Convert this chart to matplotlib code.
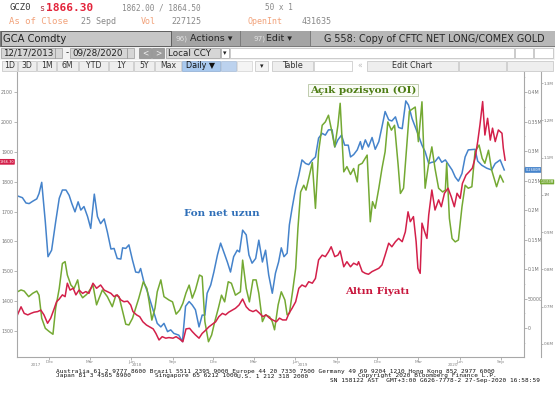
import matplotlib
matplotlib.use("Agg")
import matplotlib.pyplot as plt
import matplotlib.dates as mdates
import matplotlib.transforms as mtrans
from matplotlib.patches import Rectangle
from matplotlib.ticker import FixedLocator, FuncFormatter, MultipleLocator
import pandas as pd

# ---- data ----
# fund net long (thousand contracts), weekly
blue_dates = [
    "2017-09-21", "2017-10-02", "2017-10-10", "2017-10-17", "2017-10-25", "2017-11-03", "2017-11-08", "2017-11-14", "2017-11-22", "2017-11-28",
    "2017-12-06", "2017-12-15", "2017-12-23", "2017-12-30", "2018-01-07", "2018-01-14", "2018-01-20", "2018-01-27", "2018-02-03", "2018-02-09",
    "2018-02-16", "2018-02-24", "2018-03-03", "2018-03-11", "2018-03-18", "2018-03-25", "2018-04-02", "2018-04-09", "2018-04-17", "2018-04-24",
    "2018-05-01", "2018-05-09", "2018-05-13", "2018-05-20", "2018-05-27", "2018-06-04", "2018-06-11", "2018-06-18", "2018-06-22", "2018-06-30",
    "2018-07-07", "2018-07-14", "2018-07-22", "2018-07-29", "2018-08-06", "2018-08-13", "2018-08-21", "2018-08-28", "2018-09-04", "2018-09-15",
    "2018-09-23", "2018-09-30", "2018-10-08", "2018-10-15", "2018-10-22", "2018-10-30", "2018-11-06", "2018-11-12", "2018-11-17", "2018-11-25",
    "2018-12-02", "2018-12-10", "2018-12-17", "2018-12-24", "2019-01-01", "2019-01-08", "2019-01-15", "2019-01-23", "2019-01-28", "2019-02-04",
    "2019-02-12", "2019-02-18", "2019-02-25", "2019-03-05", "2019-03-12", "2019-03-20", "2019-03-27", "2019-04-03", "2019-04-11", "2019-04-18",
    "2019-04-25", "2019-05-01", "2019-05-07", "2019-05-14", "2019-05-19", "2019-05-25", "2019-06-02", "2019-06-09", "2019-06-16", "2019-06-24",
    "2019-07-01", "2019-07-09", "2019-07-16", "2019-07-23", "2019-07-31", "2019-08-07", "2019-08-14", "2019-08-22", "2019-08-28", "2019-09-04",
    "2019-09-12", "2019-09-19", "2019-09-27", "2019-10-02", "2019-10-09", "2019-10-17", "2019-10-24", "2019-10-28", "2019-11-04", "2019-11-11",
    "2019-11-19", "2019-11-26", "2019-12-04", "2019-12-11", "2019-12-18", "2019-12-26", "2020-01-02", "2020-01-10", "2020-01-17", "2020-01-25",
    "2020-02-02", "2020-02-08", "2020-02-16", "2020-02-23", "2020-03-01", "2020-03-09", "2020-03-16", "2020-03-24", "2020-03-31", "2020-04-07",
    "2020-04-15", "2020-04-22", "2020-04-30", "2020-05-07", "2020-05-15", "2020-05-22", "2020-05-29", "2020-06-06", "2020-06-13", "2020-06-20",
    "2020-07-05", "2020-07-11", "2020-07-20", "2020-07-31", "2020-08-11", "2020-08-19", "2020-08-30", "2020-09-08",
]
blue_vals = [
    224, 221, 212, 211, 215, 219, 228, 247, 180, 121,
    132, 180, 220, 234, 234, 225, 211, 197, 214, 200,
    206, 189, 169, 227, 189, 177, 185, 163, 134, 135,
    118, 117, 136, 135, 141, 115, 95, 94, 101, 76,
    62, 45, 25, 8, 2, 8, -6, -3, -9, -12,
    -23, 37, 45, 39, 31, 2, 22, 22, 59, 73,
    95, 124, 144, 129, 112, 95, 121, 132, 129, 166,
    158, 124, 110, 118, 149, 112, 132, 90, 59, 93,
    112, 136, 121, 127, 175, 203, 237, 259, 285, 279,
    277, 285, 290, 322, 330, 327, 336, 336, 307, 319,
    327, 310, 310, 290, 294, 302, 316, 303, 319, 307,
    323, 303, 316, 341, 367, 353, 351, 358, 340, 338,
    385, 378, 355, 341, 327, 310, 299, 279, 281, 282,
    290, 281, 285, 277, 268, 256, 249, 262, 290, 302,
    303, 283, 276, 271, 268, 279, 285, 268,
]

# open interest (thousand contracts), weekly
green_dates = [
    "2017-09-21", "2017-09-29", "2017-10-06", "2017-10-16", "2017-10-25", "2017-11-03", "2017-11-08", "2017-11-14", "2017-11-22", "2017-12-01",
    "2017-12-09", "2017-12-15", "2017-12-23", "2017-12-30", "2018-01-05", "2018-01-10", "2018-01-18", "2018-01-25", "2018-02-02", "2018-02-07",
    "2018-02-13", "2018-02-22", "2018-03-01", "2018-03-08", "2018-03-16", "2018-03-22", "2018-03-29", "2018-04-09", "2018-04-20", "2018-04-28",
    "2018-05-05", "2018-05-13", "2018-05-20", "2018-05-27", "2018-06-04", "2018-06-11", "2018-06-18", "2018-06-28", "2018-07-06", "2018-07-11",
    "2018-07-17", "2018-07-24", "2018-07-29", "2018-08-06", "2018-08-13", "2018-08-24", "2018-09-01", "2018-09-09", "2018-09-17", "2018-09-24",
    "2018-10-01", "2018-10-08", "2018-10-15", "2018-10-22", "2018-10-31", "2018-11-06", "2018-11-12", "2018-11-20", "2018-11-27", "2018-12-04",
    "2018-12-12", "2018-12-19", "2018-12-26", "2019-01-03", "2019-01-10", "2019-01-19", "2019-01-25", "2019-01-30", "2019-02-04", "2019-02-12",
    "2019-02-19", "2019-02-27", "2019-03-06", "2019-03-12", "2019-03-20", "2019-03-27", "2019-04-05", "2019-04-11", "2019-04-16", "2019-04-24",
    "2019-05-01", "2019-05-09", "2019-05-14", "2019-05-19", "2019-05-26", "2019-06-02", "2019-06-07", "2019-06-13", "2019-06-20", "2019-06-25",
    "2019-07-01", "2019-07-09", "2019-07-16", "2019-07-23", "2019-07-31", "2019-08-07", "2019-08-14", "2019-08-20", "2019-08-28", "2019-09-04",
    "2019-09-09", "2019-09-17", "2019-09-24", "2019-10-02", "2019-10-09", "2019-10-17", "2019-10-20", "2019-10-28", "2019-11-08", "2019-11-15",
    "2019-11-20", "2019-11-26", "2019-12-04", "2019-12-11", "2019-12-18", "2019-12-24", "2020-01-01", "2020-01-08", "2020-01-16", "2020-01-21",
    "2020-01-28", "2020-02-10", "2020-02-23", "2020-03-01", "2020-03-09", "2020-03-16", "2020-03-24", "2020-03-31", "2020-04-07", "2020-04-15",
    "2020-04-24", "2020-04-30", "2020-05-03", "2020-05-09", "2020-05-15", "2020-05-22", "2020-05-29", "2020-06-06", "2020-06-13", "2020-06-20",
    "2020-06-28", "2020-07-05", "2020-07-14", "2020-07-21", "2020-07-27", "2020-08-04", "2020-08-11", "2020-08-22", "2020-08-30", "2020-09-06",
]
green_vals = [
    740, 745, 742, 727, 736, 742, 731, 669, 642, 633,
    626, 696, 749, 816, 821, 785, 758, 749, 772, 736,
    724, 733, 745, 758, 705, 724, 745, 727, 700, 731,
    727, 687, 653, 651, 669, 696, 723, 767, 749, 713,
    664, 696, 740, 772, 727, 718, 713, 680, 691, 709,
    737, 758, 723, 745, 785, 781, 660, 606, 624, 660,
    696, 731, 713, 767, 763, 731, 736, 740, 825, 749,
    713, 772, 772, 736, 660, 678, 673, 660, 638, 705,
    740, 718, 678, 682, 740, 803, 910, 1008, 1026, 1013,
    1044, 1087, 964, 1116, 1187, 1196, 1214, 1179, 1129, 1187,
    1246, 1062, 1076, 1055, 1071, 1035, 1080, 1085, 1107, 928,
    982, 964, 1018, 1071, 1116, 1196, 1174, 1187, 1080, 1004,
    1018, 1225, 1236, 1143, 1250, 1018, 1085, 1129, 1071, 1018,
    1008, 1013, 1085, 937, 883, 874, 879, 968, 1026, 1018,
    1022, 1116, 1134, 1098, 1085, 1120, 1067, 1022, 1053, 1035,
]

# gold price (USD/oz)
gold_dates = [
    "2017-09-21", "2017-09-29", "2017-10-06", "2017-10-14", "2017-10-21", "2017-10-28", "2017-11-05", "2017-11-12", "2017-11-19", "2017-11-27",
    "2017-12-04", "2017-12-12", "2017-12-17", "2017-12-23", "2017-12-30", "2018-01-05", "2018-01-10", "2018-01-16", "2018-01-23", "2018-01-29",
    "2018-02-05", "2018-02-13", "2018-02-20", "2018-02-27", "2018-03-08", "2018-03-16", "2018-03-25", "2018-04-02", "2018-04-09", "2018-04-17",
    "2018-04-24", "2018-05-01", "2018-05-09", "2018-05-16", "2018-05-24", "2018-05-31", "2018-06-05", "2018-06-13", "2018-06-20", "2018-06-27",
    "2018-07-05", "2018-07-12", "2018-07-20", "2018-07-26", "2018-08-02", "2018-08-09", "2018-08-17", "2018-08-24", "2018-09-02", "2018-09-09",
    "2018-09-17", "2018-09-24", "2018-10-01", "2018-10-09", "2018-10-15", "2018-10-22", "2018-10-30", "2018-11-06", "2018-11-14", "2018-11-21",
    "2018-11-28", "2018-12-06", "2018-12-13", "2018-12-21", "2018-12-28", "2019-01-04", "2019-01-12", "2019-01-19", "2019-01-27", "2019-02-04",
    "2019-02-12", "2019-02-19", "2019-02-27", "2019-03-06", "2019-03-14", "2019-03-21", "2019-03-28", "2019-04-05", "2019-04-12", "2019-04-20",
    "2019-04-27", "2019-05-04", "2019-05-12", "2019-05-18", "2019-05-25", "2019-06-02", "2019-06-09", "2019-06-16", "2019-06-24", "2019-07-01",
    "2019-07-09", "2019-07-16", "2019-07-23", "2019-07-31", "2019-08-07", "2019-08-14", "2019-08-20", "2019-08-28", "2019-09-04", "2019-09-09",
    "2019-09-17", "2019-09-24", "2019-10-02", "2019-10-09", "2019-10-17", "2019-10-20", "2019-10-28", "2019-11-04", "2019-11-11", "2019-11-19",
    "2019-11-26", "2019-12-04", "2019-12-11", "2019-12-18", "2019-12-26", "2020-01-02", "2020-01-10", "2020-01-17", "2020-01-25", "2020-02-01",
    "2020-02-07", "2020-02-12", "2020-02-19", "2020-02-25", "2020-02-29", "2020-03-05", "2020-03-09", "2020-03-15", "2020-03-20", "2020-03-24",
    "2020-03-31", "2020-04-07", "2020-04-15", "2020-04-21", "2020-04-28", "2020-05-06", "2020-05-13", "2020-05-20", "2020-05-26", "2020-06-02",
    "2020-06-07", "2020-06-15", "2020-06-22", "2020-06-29", "2020-07-05", "2020-07-11", "2020-07-16", "2020-07-22", "2020-07-27", "2020-08-02",
    "2020-08-08", "2020-08-13", "2020-08-19", "2020-08-26", "2020-09-03", "2020-09-06", "2020-09-10",
]
gold_vals = [
    1354, 1381, 1359, 1354, 1359, 1363, 1365, 1370, 1354, 1326,
    1343, 1376, 1398, 1407, 1421, 1415, 1460, 1437, 1443, 1421,
    1437, 1426, 1432, 1426, 1460, 1443, 1454, 1437, 1432, 1426,
    1415, 1421, 1404, 1398, 1400, 1387, 1365, 1354, 1348, 1331,
    1320, 1314, 1307, 1292, 1270, 1281, 1276, 1278, 1276, 1281,
    1273, 1264, 1307, 1309, 1298, 1287, 1276, 1292, 1303, 1314,
    1322, 1331, 1348, 1359, 1354, 1363, 1370, 1376, 1387, 1407,
    1381, 1370, 1365, 1370, 1359, 1348, 1354, 1343, 1337, 1331,
    1343, 1337, 1337, 1359, 1376, 1398, 1443, 1454, 1448, 1465,
    1460, 1476, 1538, 1554, 1549, 1565, 1582, 1549, 1554, 1568,
    1515, 1532, 1515, 1527, 1521, 1532, 1499, 1493, 1490, 1499,
    1504, 1510, 1521, 1554, 1594, 1582, 1599, 1610, 1599, 1632,
    1699, 1666, 1683, 1599, 1510, 1493, 1661, 1632, 1610, 1688,
    1772, 1705, 1739, 1716, 1761, 1778, 1750, 1716, 1761, 1744,
    1794, 1822, 1833, 1845, 1878, 1934, 1990, 2068, 1956, 2012,
    1939, 1979, 1934, 1973, 1962, 1912, 1872,
]

last_price = 1866.30
gold_ticks = [1300, 1400, 1500, 1600, 1700, 1800, 1900, 2000, 2100]
net_ticks = [0, 50, 100, 150, 200, 250, 300, 350, 400]
oi_ticks = [600, 700, 800, 900, 1000, 1100, 1200, 1300]
year_labels = ["2017", "2018", "2019", "2020"]
year_label_dates = ["2017-11-01", "2018-06-13", "2019-06-17", "2020-05-17"]

RED = "#d3204a"
BLUE = "#4583cb"
GREEN = "#74a933"
MONO = "DejaVu Sans Mono"
SANS = "DejaVu Sans"

W, H = 555, 400
fig = plt.figure(figsize=(W / 100, H / 100), dpi=100)
fig.patch.set_facecolor("white")


def fx(x):
    return x / W


def fy(y):
    return 1 - y / H


def box(x0, y0, x1, y1, fc, ec="none", lw=0.6):
    fig.patches.append(Rectangle((fx(x0), fy(y1)), fx(x1) - fx(x0), fy(y0) - fy(y1),
                                 transform=fig.transFigure, fc=fc, ec=ec, lw=lw))


def label(x, y, s, size=6.0, color="#222222", family=SANS, weight="normal", ha="left"):
    fig.text(fx(x), fy(y), s, fontsize=size, color=color, family=family,
             weight=weight, ha=ha, va="center")


# ---- header rows ----
label(9, 8, "GCZ0", 6.5, "#3a3a3a", MONO)
label(39, 8.5, "s", 6.0, "#b03040", MONO)
label(46, 8, "1866.30", 8, "#e3243b", MONO, "bold")
label(122, 8, "1862.00 / 1864.50", 5.6, "#888888", MONO)
label(265, 8, "50 x 1", 5.6, "#888888", MONO)
label(9, 22, "As of Close", 6.5, "#f2a27a", MONO)
label(81, 22, "25 Sepd", 6.0, "#888888", MONO)
label(141, 22, "Vol", 6.0, "#f2a27a", MONO)
label(171, 22, "227125", 6.0, "#888888", MONO)
label(248, 22, "OpenInt", 6.0, "#f2a27a", MONO)
label(302, 22, "431635", 6.0, "#888888", MONO)

box(0, 30.5, 555, 46.5, "#7c7c7c")
box(0.5, 31.5, 171, 45.5, "#c6c6c6", "#555555")
label(3, 38.5, "GCA Comdty", 7.2)
box(172, 31.5, 240, 45.5, "#a4a4a4")
label(176, 38.5, "96)", 5.2, "#e2e2e2")
label(190, 38.5, "Actions \u25be", 6.8, "#262626")
box(241, 31.5, 310, 45.5, "#a4a4a4")
label(254, 38.5, "97)", 5.2, "#e2e2e2")
label(266, 38.5, "Edit \u25be", 6.8, "#262626")
box(311, 31.5, 555, 45.5, "#b8b8b8")
label(324, 38.5, "G 558: Copy of CFTC NET LONG/COMEX GOLD", 6.9, "#262626")

box(0, 46.5, 555, 59.5, "#f2f2f2")
box(1, 48, 55, 58, "#d6d6d6", "#888888", 0.4)
label(3, 53, "12/17/2013", 6.3)
box(55, 48, 62, 58, "#d6d6d6", "#888888", 0.4)
label(66, 53, "-", 6.3)
box(70, 48, 127, 58, "#d6d6d6", "#888888", 0.4)
label(72, 53, "09/28/2020", 6.3)
box(127, 48, 134, 58, "#d6d6d6", "#888888", 0.4)
box(139, 48, 151, 58, "#9c9c9c", "#777777", 0.4)
label(145, 53, "<", 5.5, "#f0f0f0", ha="center")
box(152, 48, 164, 58, "#9c9c9c", "#777777", 0.4)
label(158, 53, ">", 5.5, "#f0f0f0", ha="center")
box(166, 48, 220, 58, "#d6d6d6", "#888888", 0.4)
label(168, 53, "Local CCY", 6.3)
box(221, 48, 229, 58, "#ffffff", "#888888", 0.4)
label(225, 53, "\u25be", 5, ha="center")
box(230, 48, 514, 58, "#ffffff", "#aaaaaa", 0.4)
box(515, 48, 533, 58, "#ffffff", "#aaaaaa", 0.4)
box(534, 48, 553, 58, "#ffffff", "#aaaaaa", 0.4)

buttons = [(2, 17, "1D"), (18, 36, "3D"), (37, 56, "1M"), (57, 78, "6M"), (79, 108, "YTD"),
           (109, 133, "1Y"), (134, 154, "5Y"), (155, 181, "Max")]
for x0, x1, s in buttons:
    box(x0, 60.5, x1, 71, "#eeeeee", "#b4b4b4", 0.4)
    label((x0 + x1) / 2, 66, s, 5.6, "#333333", ha="center")
box(182, 60.5, 220, 71, "#a9c9ee", "#7a9cc6", 0.4)
label(201, 66, "Daily \u25bc", 5.8, "#111111", ha="center")
box(221, 60.5, 236, 71, "#bcd2ee", "#9ab0cc", 0.4)
box(237, 60.5, 252, 71, "#f4f4f4", "#c8c8c8", 0.4)
box(255, 60.5, 268, 71, "#f4f4f4", "#b4b4b4", 0.4)
label(261.5, 66, "\u25be", 5, ha="center")
box(272, 60.5, 313, 71, "#eeeeee", "#b4b4b4", 0.4)
label(292.5, 66, "Table", 5.8, "#333333", ha="center")
box(314, 60.5, 352, 71, "#ffffff", "#b4b4b4", 0.4)
label(360, 66, "\u00ab", 5.5, "#bbbbbb", ha="center")
box(367, 60.5, 458, 71, "#eeeeee", "#b4b4b4", 0.4)
label(412.5, 66, "Edit Chart", 5.8, "#333333", ha="center")
box(459, 60.5, 506, 71, "#eeeeee", "#b4b4b4", 0.4)
box(507, 60.5, 553, 71, "#eeeeee", "#b4b4b4", 0.4)

# ---- chart ----
ax = fig.add_axes([fx(17), fy(357), fx(524) - fx(17), fy(72) - fy(357)])
ax_b = ax.twinx()
ax_g = ax.twinx()
ax.set_zorder(ax_g.get_zorder() + 1)
ax.patch.set_visible(False)

gd = pd.to_datetime(gold_dates)
bd = pd.to_datetime(blue_dates)
od = pd.to_datetime(green_dates)

ax_g.plot(od, green_vals, color=GREEN, lw=1.1)
ax_b.plot(bd, blue_vals, color=BLUE, lw=1.1)
ax.plot(gd, gold_vals, color=RED, lw=1.1)

ax.set_xlim(pd.Timestamp("2017-09-20"), pd.Timestamp("2020-10-22"))
ax.set_ylim(1213, 2167)
ax_b.set_ylim(-49, 434)
ax_g.set_ylim(565, 1330)

spine_c = "#a8a8a8"
for a in (ax, ax_b, ax_g):
    for s in a.spines.values():
        s.set_visible(False)
ax.spines["left"].set_visible(True)
ax.spines["bottom"].set_visible(True)
ax_b.spines["right"].set_visible(True)
ax_g.spines["right"].set_visible(True)
ax_g.spines["right"].set_position(("axes", 1.033))
for s in (ax.spines["left"], ax.spines["bottom"], ax_b.spines["right"], ax_g.spines["right"]):
    s.set_color(spine_c)
    s.set_linewidth(0.8)

tick_kw = dict(labelsize=3.4, labelcolor="#777777", color="#999999", length=2, width=0.5, pad=0.8)
ax.yaxis.set_major_locator(FixedLocator(gold_ticks))
ax.yaxis.set_major_formatter(FuncFormatter(lambda v, p: f"{v:.0f}"))
ax.tick_params(axis="y", **tick_kw)

ax_b.yaxis.set_major_locator(FixedLocator(net_ticks))
ax_b.yaxis.set_minor_locator(MultipleLocator(25))
ax_b.yaxis.set_major_formatter(FuncFormatter(
    lambda v, p: "0" if v == 0 else ("50000" if v == 50 else f"{v / 1000:g}M")))
ax_b.tick_params(axis="y", **tick_kw)
ax_b.tick_params(axis="y", which="minor", length=1, width=0.4, color="#aaaaaa")

ax_g.yaxis.set_major_locator(FixedLocator(oi_ticks))
ax_g.yaxis.set_major_formatter(FuncFormatter(lambda v, p: f"{v / 1000:g}M"))
ax_g.tick_params(axis="y", labelsize=3.0, labelcolor="#777777", color="#999999",
                 length=1.5, width=0.5, pad=0.5)

ax.xaxis.set_major_locator(FixedLocator(mdates.date2num(pd.date_range("2017-12-01", "2020-09-01", freq="3MS"))))
ax.xaxis.set_major_formatter(mdates.DateFormatter("%b"))
ax.tick_params(axis="x", labelsize=3.1, labelcolor="#888888", color="#999999", length=1.8, width=0.5, pad=0.3)

xt = mtrans.blended_transform_factory(ax.transData, ax.transAxes)
for yl, yd in zip(year_labels, year_label_dates):
    ax.text(pd.Timestamp(yd), -0.028, yl, transform=xt, fontsize=3.0, color="#888888",
            ha="center", va="center", clip_on=False)

# last value tags
yt_g = mtrans.blended_transform_factory(ax.transAxes, ax.transData)
ax.text(-0.006, last_price, f"{last_price:.2f}", transform=yt_g, ha="right", va="center",
        fontsize=2.5, color="white", clip_on=False, zorder=10,
        bbox=dict(boxstyle="round,pad=0.25", fc=RED, ec="none"))
yt_b = mtrans.blended_transform_factory(ax_b.transAxes, ax_b.transData)
ax_b.text(1.003, blue_vals[-1], f"{blue_vals[-1] / 1000:.4f}M", transform=yt_b, ha="left", va="center",
          fontsize=2.5, color="white", clip_on=False, zorder=10,
          bbox=dict(boxstyle="round,pad=0.25", fc=BLUE, ec="none"))
yt_o = mtrans.blended_transform_factory(ax_g.transAxes, ax_g.transData)
ax_g.text(1.0325, green_vals[-1], f"{green_vals[-1] / 1000:.4f}M", transform=yt_o, ha="left", va="center",
          fontsize=2.2, color="white", clip_on=False, zorder=10,
          bbox=dict(boxstyle="round,pad=0.15", fc=GREEN, ec="none"))

# series annotations
ax.text(0.682, 0.937, "A\u00e7\u0131k pozisyon (OI)", transform=ax.transAxes, ha="center", va="center",
        fontsize=7.5, family="DejaVu Serif", weight="bold", color="#4d7d14",
        bbox=dict(boxstyle="square,pad=0.15", fc="#fafcf6", ec="#b6c4a2", lw=0.6))
ax.text(0.404, 0.505, "Fon net uzun", transform=ax.transAxes, ha="center", va="center",
        fontsize=7.5, family="DejaVu Serif", weight="bold", color="#2f6fb8")
ax.text(0.710, 0.230, "Alt\u0131n Fiyat\u0131", transform=ax.transAxes, ha="center", va="center",
        fontsize=7.5, family="DejaVu Serif", weight="bold", color="#c8163c")

# ---- footer ----
label(56, 371.5, "Australia 61 2 9777 8600 Brazil 5511 2395 9000 Europe 44 20 7330 7500 Germany 49 69 9204 1210 Hong Kong 852 2977 6000",
      4.4, "#111111", MONO)
label(56, 376, "Japan 81 3 4565 8900", 4.4, "#111111", MONO)
label(155, 376, "Singapore 65 6212 1000", 4.4, "#111111", MONO)
label(237, 376, "U.S. 1 212 318 2000", 4.4, "#111111", MONO)
label(358, 376, "Copyright 2020 Bloomberg Finance L.P.", 4.4, "#111111", MONO)
label(540, 380.5, "SN 158122 AST  GMT+3:00 G626-7778-2 27-Sep-2020 16:58:59", 4.4, "#111111", MONO, ha="right")

fig.savefig("out.png", dpi=100, facecolor="white")
